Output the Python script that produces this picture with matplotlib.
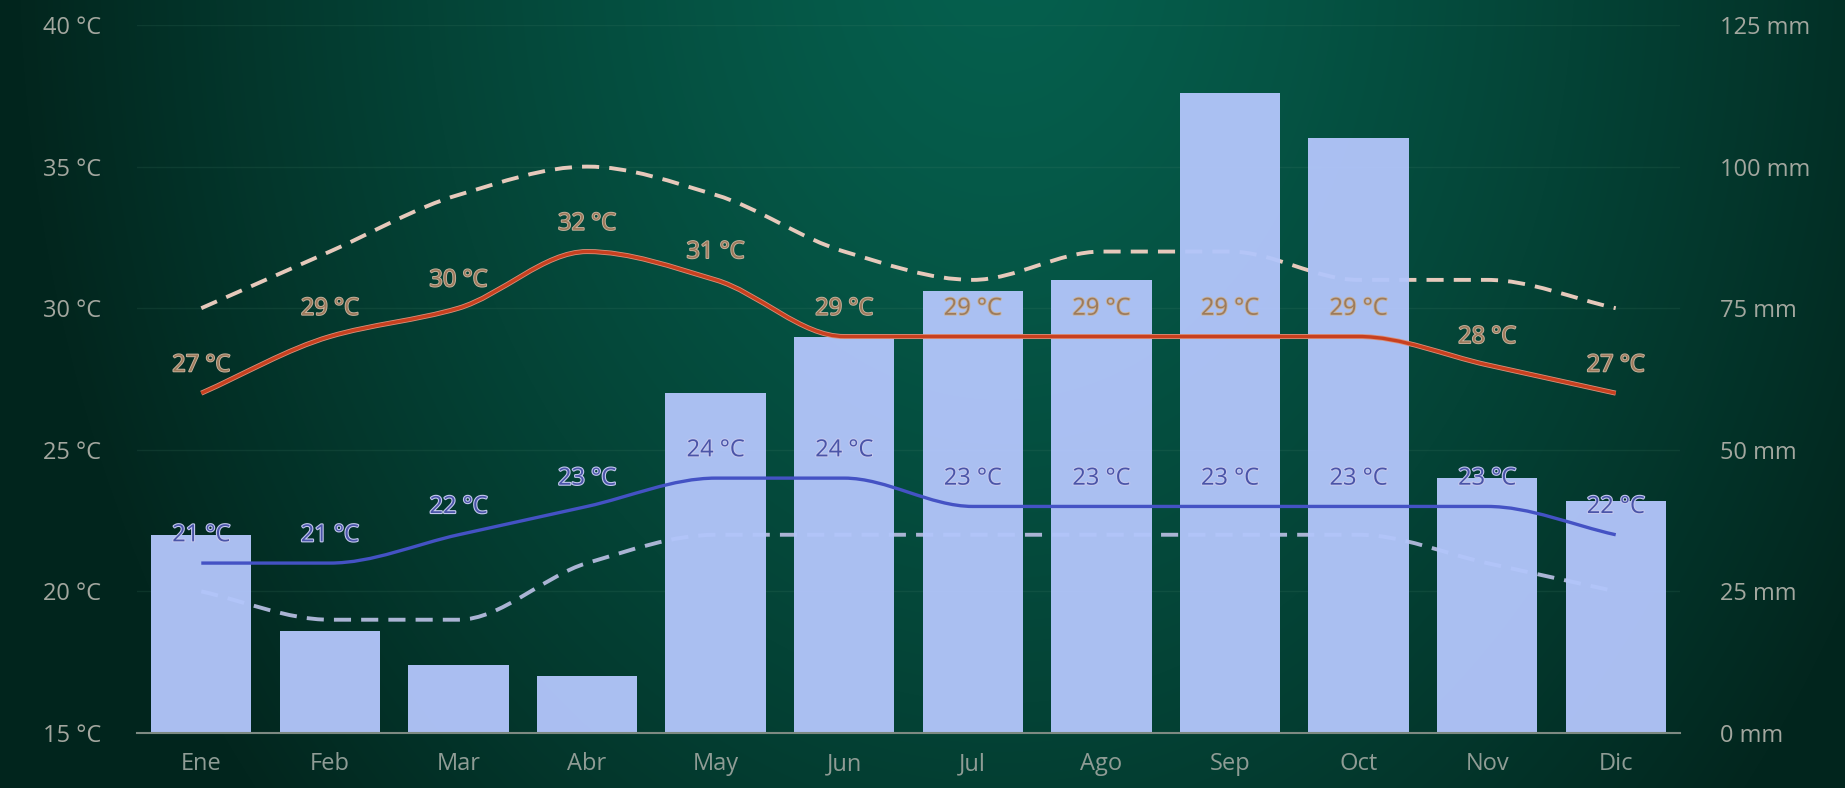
import numpy as np
import matplotlib
matplotlib.use("Agg")
import matplotlib.pyplot as plt
from matplotlib.path import Path
from matplotlib.patches import PathPatch
import matplotlib.patheffects as pe

plt.rcParams['font.family'] = ['Open Sans', 'DejaVu Sans']

months = ["Ene", "Feb", "Mar", "Abr", "May", "Jun", "Jul", "Ago", "Sep", "Oct", "Nov", "Dic"]
precip = [35, 18, 12, 10, 60, 70, 78, 80, 113, 105, 45, 41]
t_max = [27, 29, 30, 32, 31, 29, 29, 29, 29, 29, 28, 27]
t_min = [21, 21, 22, 23, 24, 24, 23, 23, 23, 23, 23, 22]
t_max_abs = [30, 32, 34, 35, 34, 32, 31, 32, 32, 31, 31, 30]
t_min_abs = [20, 19, 19, 21, 22, 22, 22, 22, 22, 22, 21, 20]
temp_ticks = [15, 20, 25, 30, 35, 40]
rain_ticks = [0, 25, 50, 75, 100, 125]


def smooth_path(ys, scale=1.0, shift=0.0):
    # monotone cubic bezier through the points (x = 0..n-1)
    ys = (np.asarray(ys, float) - shift) * scale
    n = len(ys)
    d = np.diff(ys)
    m = np.zeros(n)
    m[0], m[-1] = d[0], d[-1]
    for i in range(1, n - 1):
        if d[i - 1] * d[i] <= 0:
            m[i] = 0
        else:
            m[i] = 2 / (1 / d[i - 1] + 1 / d[i])
    verts = [(0, ys[0])]
    codes = [Path.MOVETO]
    for i in range(n - 1):
        verts += [(i + 1 / 3, ys[i] + m[i] / 3),
                  (i + 2 / 3, ys[i + 1] - m[i + 1] / 3),
                  (i + 1, ys[i + 1])]
        codes += [Path.CURVE4] * 3
    return Path(verts, codes)


W, H = 1845, 788
fig = plt.figure(figsize=(W / 100, H / 100), dpi=100)

# background radial gradient
bg = fig.add_axes([0, 0, 1, 1])
yy, xx = np.mgrid[0:H, 0:W]
r = np.sqrt(((xx - 1000) / 980.0) ** 2 + ((yy + 60) / 1300.0) ** 2)
r = np.clip(r, 0, 1) ** 1.3
c0 = np.array([0x06, 0x60, 0x4e]) / 255
c1 = np.array([0x02, 0x26, 0x1e]) / 255
img = c0[None, None, :] * (1 - r[..., None]) + c1[None, None, :] * r[..., None]
bg.imshow(img, aspect='auto', extent=[0, 1, 0, 1])
bg.axis('off')

ax = fig.add_axes([137 / W, 55 / H, (1680 - 137) / W, (733 - 25) / H])
ax.patch.set_alpha(0)
ax2 = ax.twinx()

x = np.arange(len(months))
ax.set_xlim(-0.5, len(months) - 0.5)
ax.set_ylim(15, 40)
ax2.set_ylim(0, 125)

for t in temp_ticks[1:]:
    ax.axhline(t, color='#4f8a72', lw=1, alpha=0.15, zorder=0)

# dashed extremes behind the bars
ax.add_patch(PathPatch(smooth_path(t_max_abs), fill=False, ec='#e6c9bb', lw=2.8,
                       linestyle=(0, (4.4, 2.6)), zorder=1))
ax.add_patch(PathPatch(smooth_path(t_min_abs), fill=False, ec='#aab4d4', lw=2.8,
                       linestyle=(0, (4.4, 2.6)), zorder=1))

ax2.bar(x, precip, width=0.78, color='#b2c5fa', alpha=0.96, zorder=2)
ax2.set_zorder(ax.get_zorder() + 1)
ax2.patch.set_alpha(0)

# solid lines on top of bars (drawn on the rain axis: mm = (°C - 15) * 5)
ax2.add_patch(PathPatch(smooth_path(t_max, 5, 15), fill=False, ec='#c8401f', lw=2.4, zorder=3,
                        path_effects=[pe.Stroke(linewidth=3.6, foreground='#d9907a'), pe.Normal()]))
ax2.add_patch(PathPatch(smooth_path(t_min, 5, 15), fill=False, ec='#4452c4', lw=2.4, zorder=3))

for i, (a, b) in enumerate(zip(t_max, t_min)):
    ax2.annotate(f"{a} °C", (i, (a - 15) * 5), xytext=(0, 20), textcoords='offset points',
                 ha='center', va='center', fontsize=17, color='#9c7a5c', zorder=5,
                 path_effects=[pe.withStroke(linewidth=1.3, foreground='#c8b39e')])
    ax2.annotate(f"{b} °C", (i, (b - 15) * 5), xytext=(0, 20), textcoords='offset points',
                 ha='center', va='center', fontsize=17, color='#4a54a8', zorder=5,
                 path_effects=[pe.withStroke(linewidth=1.6, foreground='#c2c7ee')])

ax.set_yticks(temp_ticks)
ax.set_yticklabels([f"{t} °C" for t in temp_ticks])
ax2.set_yticks(rain_ticks)
ax2.set_yticklabels([f"{t} mm" for t in rain_ticks])
ax.set_xticks(x)
ax.set_xticklabels(months)

ax.tick_params(axis='y', length=0, pad=26, labelsize=17, labelcolor='#a3a79f')
ax2.tick_params(axis='y', length=0, pad=29, labelsize=17, labelcolor='#a3a79f')
ax.tick_params(axis='x', length=0, pad=14, labelsize=17, labelcolor='#8f9c95')

for a in (ax, ax2):
    for s in a.spines.values():
        s.set_visible(False)
ax2.axhline(0, color='#7d8a82', lw=1.5, zorder=2.5, clip_on=False)

fig.savefig("out.png", dpi=100)
